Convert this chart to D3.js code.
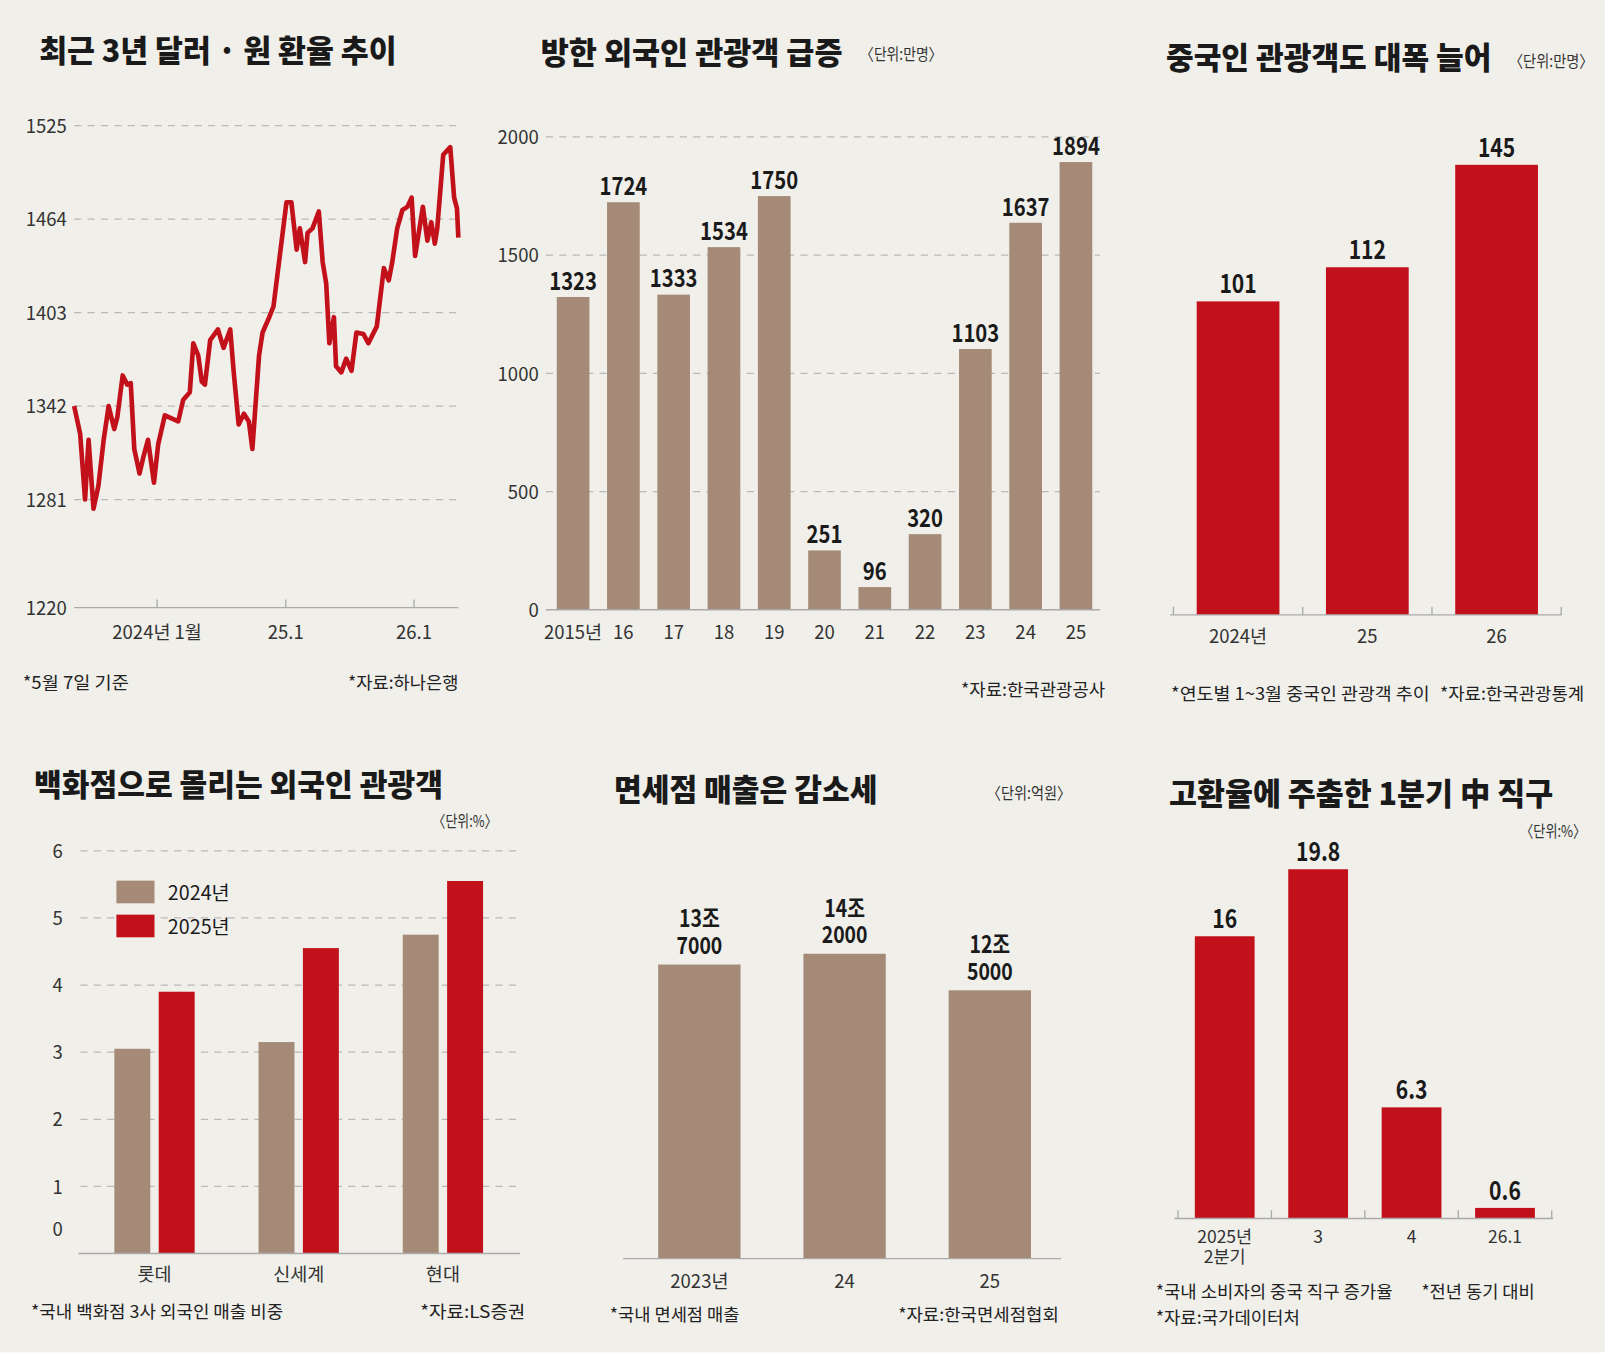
<!DOCTYPE html>
<html><head><meta charset="utf-8">
<script src="https://cdn.jsdelivr.net/npm/d3@7"></script>
<style>body{margin:0;background:#fff}svg{display:block}</style>
</head><body>
<svg id="c" width="1614" height="1357"></svg>
<script>
// ---------- DATA ----------
const fxDates = ["2023-05-10","2023-05-27","2023-06-10","2023-06-20","2023-07-04","2023-07-18","2023-08-02","2023-08-16","2023-09-01","2023-09-10","2023-09-25","2023-10-08","2023-10-18","2023-10-28","2023-11-12","2023-11-22","2023-12-06","2023-12-23","2024-01-04","2024-01-23","2024-02-11","2024-03-01","2024-03-15","2024-04-03","2024-04-13","2024-04-27","2024-05-07","2024-05-16","2024-05-31","2024-06-22","2024-07-08","2024-07-27","2024-08-06","2024-08-20","2024-09-04","2024-09-18","2024-09-28","2024-10-17","2024-10-27","2024-11-15","2024-11-27","2024-12-09","2025-01-03","2025-01-17","2025-02-01","2025-02-10","2025-02-25","2025-03-04","2025-03-18","2025-04-05","2025-04-16","2025-04-26","2025-05-05","2025-05-18","2025-05-24","2025-06-08","2025-06-22","2025-07-07","2025-07-21","2025-08-10","2025-08-24","2025-09-17","2025-10-07","2025-10-21","2025-10-31","2025-11-14","2025-11-29","2025-12-13","2025-12-25","2026-01-04","2026-01-26","2026-02-08","2026-02-19","2026-03-01","2026-03-08","2026-03-25","2026-04-14","2026-04-25","2026-05-03","2026-05-07"];
const fxValues = [1342,1324,1281,1320,1275,1290,1320,1342,1327,1335,1362,1356,1357,1314,1298,1308,1320,1292,1317,1336,1334,1332,1346,1351,1383,1375,1358,1356,1385,1392,1380,1392,1364,1330,1337,1332,1314,1375,1390,1400,1407,1429,1475,1475,1444,1458,1436,1455,1458,1469,1436,1422,1383,1400,1368,1364,1373,1365,1390,1389,1383,1394,1432,1424,1436,1458,1470,1472,1478,1440,1472,1450,1462,1448,1458,1506,1511,1478,1471,1452];
const fxTicks = [1281,1342,1403,1464,1525];
const fxXTicks = ["2024-01-01","2025-01-01","2026-01-01"];
const fxXLabels = ["2024년 1월","25.1","26.1"];

const visYears = ["2015년","16","17","18","19","20","21","22","23","24","25"];
const visValues = [1323,1724,1333,1534,1750,251,96,320,1103,1637,1894];
const visTicks = [0,500,1000,1500,2000];

const cnYears = ["2024년","25","26"];
const cnValues = [101,112,145];

const dsStores = ["롯데","신세계","현대"];
const dsSeries = ["2024년","2025년"];
const ds2024 = [3.05,3.15,4.75];
const ds2025 = [3.9,4.55,5.55];
const dsTicks = [0,1,2,3,4,5,6];

const dfYears = ["2023년","24","25"];
const dfValues = [137000,142000,125000];
const dfLabels = [["13조","7000"],["14조","2000"],["12조","5000"]];

const dgPeriods = [["2025년","2분기"],["3"],["4"],["26.1"]];
const dgValues = [16,19.8,6.3,0.6];

// ---------- STYLE ----------
const BG="#f0efea", BROWN="#a58b77", RED="#c3111c", INK="#1a1a1a", GRID="#b9b9b6";
const KR="'Noto Sans CJK KR','Noto Sans',sans-serif";
const NUM="'Liberation Sans Narrow','Noto Sans CJK KR',sans-serif";

const svg=d3.select("#c");
svg.append("rect").attr("width",1614).attr("height",1357).attr("fill","#fff");
const g=svg.append("g").attr("transform","scale(1.03)");
g.append("rect").attr("width",1558).attr("height",1313).attr("fill",BG);

function txt(x,y,s,o={}){
  const t=g.append("text").attr("x",x).attr("y",y).text(s)
    .attr("font-family",o.ff||KR).attr("font-size",o.fs||17)
    .attr("font-weight",o.fw||400).attr("fill",o.fill||"#333")
    .attr("text-anchor",o.anchor||"start");
  if(o.w) t.attr("textLength",o.w).attr("lengthAdjust","spacingAndGlyphs");
  return t;
}
// bold condensed value label
function val(cx,y,s,fs){
  const t=g.append("text").attr("transform",`translate(${cx},${y}) scale(0.82,1)`).text(s)
    .attr("font-family",KR).attr("font-size",fs||25).attr("font-weight",700)
    .attr("fill",INK).attr("text-anchor","middle");
  return t;
}
function title(x,y,s,w){return txt(x,y,s,{fs:30,fw:900,fill:INK,w:w});}
function note(x,y,s,w){return txt(x,y,s,{fs:17,fill:"#222",w:w});}
function hgrid(x1,x2,y){g.append("line").attr("x1",x1).attr("x2",x2).attr("y1",y).attr("y2",y).attr("stroke",GRID).attr("stroke-width",1.2).attr("stroke-dasharray","7,6");}
function hline(x1,x2,y,c){g.append("line").attr("x1",x1).attr("x2",x2).attr("y1",y).attr("y2",y).attr("stroke",c||"#aaa").attr("stroke-width",1.3);}
function tick(x,y1,y2){g.append("line").attr("x1",x).attr("x2",x).attr("y1",y1).attr("y2",y2).attr("stroke","#aaa").attr("stroke-width",1.3);}

// ---------- PANEL 1: FX line ----------
title(38,60,"최근 3년 달러 · 원 환율 추이",347);
const parse=d3.timeParse("%Y-%m-%d");
const x1=d3.scaleTime().domain([parse(fxDates[0]),parse(fxDates[fxDates.length-1])]).range([72,445]);
const y1=d3.scaleLinear().domain([1281,1525]).range([485,122]);
fxTicks.forEach(v=>{hgrid(72,445,y1(v));txt(25,y1(v)+7,v,{fs:18,fill:"#333"});});
hline(72,445,590);
txt(25,597,"1220",{fs:18});
fxXTicks.forEach((d,i)=>{const xx=x1(parse(d));tick(xx,582,590);txt(xx,620,fxXLabels[i],{fs:18,anchor:"middle"});});
g.append("path").datum(fxDates.map((d,i)=>[parse(d),fxValues[i]]))
  .attr("d",d3.line().x(d=>x1(d[0])).y(d=>y1(d[1])))
  .attr("fill","none").attr("stroke",RED).attr("stroke-width",4.5).attr("stroke-linejoin","round");
note(22,669,"*5월 7일 기준",103);
note(338,669,"*자료:하나은행",107);

// ---------- PANEL 2: visitors ----------
title(525,62,"방한 외국인 관광객 급증",293);
txt(835,58,"〈단위:만명〉",{fs:16,w:80});
const x2=d3.scaleBand().domain(visYears).range([532,1069]).paddingInner(0.35).paddingOuter(0.175);
const y2=d3.scaleLinear().domain([0,2000]).range([592,133]);
visTicks.forEach(v=>{if(v>0)hgrid(530,1068,y2(v));txt(523,y2(v)+7,v,{fs:18,anchor:"end"});});
g.selectAll(".b2").data(visValues).enter().append("rect")
  .attr("x",(d,i)=>x2(visYears[i])).attr("width",x2.bandwidth())
  .attr("y",d=>y2(d)).attr("height",d=>y2(0)-y2(d)).attr("fill",BROWN);
hline(530,1068,592);
visValues.forEach((v,i)=>{const cx=x2(visYears[i])+x2.bandwidth()/2;
  val(cx,y2(v)-7,v,24);
  txt(cx,620,visYears[i],{fs:18,anchor:"middle"});});
note(933,676,"*자료:한국관광공사",140);

// ---------- PANEL 3: Chinese visitors ----------
title(1132,67,"중국인 관광객도 대폭 늘어",316);
txt(1465,65,"〈단위:만명〉",{fs:16,w:82});
const x3=d3.scaleBand().domain(cnYears).range([1139.25,1515.75]).paddingInner(0.36).paddingOuter(0.18);
const y3=d3.scaleLinear().domain([0,145]).range([597,160]);
g.selectAll(".b3").data(cnValues).enter().append("rect")
  .attr("x",(d,i)=>x3(cnYears[i])).attr("width",x3.bandwidth())
  .attr("y",d=>y3(d)).attr("height",d=>y3(0)-y3(d)).attr("fill",RED);
hline(1136,1516,597);
[0,1,2,3].forEach(i=>tick(1139.25+i*x3.step(),589,597));
cnValues.forEach((v,i)=>{const cx=x3(cnYears[i])+x3.bandwidth()/2;
  val(cx,y3(v)-8,v,25);
  txt(cx,624,cnYears[i],{fs:18,anchor:"middle"});});
note(1137,680,"*연도별 1~3월 중국인 관광객 추이",251);
note(1398,680,"*자료:한국관광통계",140);

// ---------- PANEL 4: department stores ----------
title(33,773,"백화점으로 몰리는 외국인 관광객",397);
txt(420,803,"〈단위:%〉",{fs:16,w:63});
const x4=d3.scaleBand().domain(dsStores).range([80,500]).paddingInner(0.443).paddingOuter(0.2215);
const x4i=d3.scaleBand().domain(dsSeries).range([0,x4.bandwidth()]).paddingInner(0.19);
const y4=d3.scaleLinear().domain([0,6]).range([1217,826]);
dsTicks.forEach(v=>{if(v>0)hgrid(78,505,y4(v));txt(56,v===0?y4(v)-17:y4(v)+7,v,{fs:18,anchor:"middle"});});
[[ds2024,BROWN,dsSeries[0]],[ds2025,RED,dsSeries[1]]].forEach(([arr,c,s])=>{
  g.selectAll(null).data(arr).enter().append("rect")
    .attr("x",(d,i)=>x4(dsStores[i])+x4i(s)).attr("width",x4i.bandwidth())
    .attr("y",d=>y4(d)).attr("height",d=>y4(0)-y4(d)).attr("fill",c);});
hline(76,505,1217);
dsStores.forEach(s=>txt(x4(s)+x4.bandwidth()/2,1244,s,{fs:18,anchor:"middle"}));
[[BROWN,dsSeries[0],855],[RED,dsSeries[1],888]].forEach(([c,s,yy])=>{
  g.append("rect").attr("x",113).attr("y",yy).attr("width",37).attr("height",22).attr("fill",c);
  txt(163,yy+19,s,{fs:19,fill:INK,w:60});});
note(30,1280,"*국내 백화점 3사 외국인 매출 비중",245);
note(408,1280,"*자료:LS증권",102);

// ---------- PANEL 5: duty free ----------
title(596,778,"면세점 매출은 감소세",256);
txt(958,776,"〈단위:억원〉",{fs:16,w:82});
const x5=d3.scaleBand().domain(dfYears).range([608.5,1031.5]).paddingInner(0.433).paddingOuter(0.2165);
const y5=d3.scaleLinear().domain([0,142000]).range([1222,926]);
g.selectAll(".b5").data(dfValues).enter().append("rect")
  .attr("x",(d,i)=>x5(dfYears[i])).attr("width",x5.bandwidth())
  .attr("y",d=>y5(d)).attr("height",d=>y5(0)-y5(d)).attr("fill",BROWN);
hline(605,1030,1222);
dfValues.forEach((v,i)=>{const cx=x5(dfYears[i])+x5.bandwidth()/2;
  val(cx,y5(v)-36,dfLabels[i][0],23);
  val(cx,y5(v)-10,dfLabels[i][1],23);
  txt(cx,1250,dfYears[i],{fs:18,anchor:"middle"});});
note(592,1283,"*국내 면세점 매출",126);
note(872,1283,"*자료:한국면세점협회",156);

// ---------- PANEL 6: direct purchase ----------
title(1135,782,"고환율에 주춤한 1분기 中 직구",373);
txt(1476,813,"〈단위:%〉",{fs:16,w:64});
const dgKeys=dgPeriods.map(p=>p.join(" "));
const x6=d3.scaleBand().domain(dgKeys).range([1143.7,1506.5]).paddingInner(0.36).paddingOuter(0.18);
const y6=d3.scaleLinear().domain([0,16]).range([1183,909]);
g.selectAll(".b6").data(dgValues).enter().append("rect")
  .attr("x",(d,i)=>x6(dgKeys[i])).attr("width",x6.bandwidth())
  .attr("y",d=>y6(d)).attr("height",d=>y6(0)-y6(d)).attr("fill",RED);
hline(1140,1508,1183);
[0,1,2,3,4].forEach(i=>tick(1143.7+i*x6.step(),1175,1183));
dgValues.forEach((v,i)=>{const cx=x6(dgKeys[i])+x6.bandwidth()/2;
  val(cx,y6(v)-8,v,25);
  dgPeriods[i].forEach((l,j)=>txt(cx,1207+j*19,l,{fs:17,anchor:"middle"}));});
note(1122,1260,"*국내 소비자의 중국 직구 증가율",230);
note(1380,1260,"*전년 동기 대비",110);
note(1122,1285,"*자료:국가데이터처",140);
</script>
</body></html>
